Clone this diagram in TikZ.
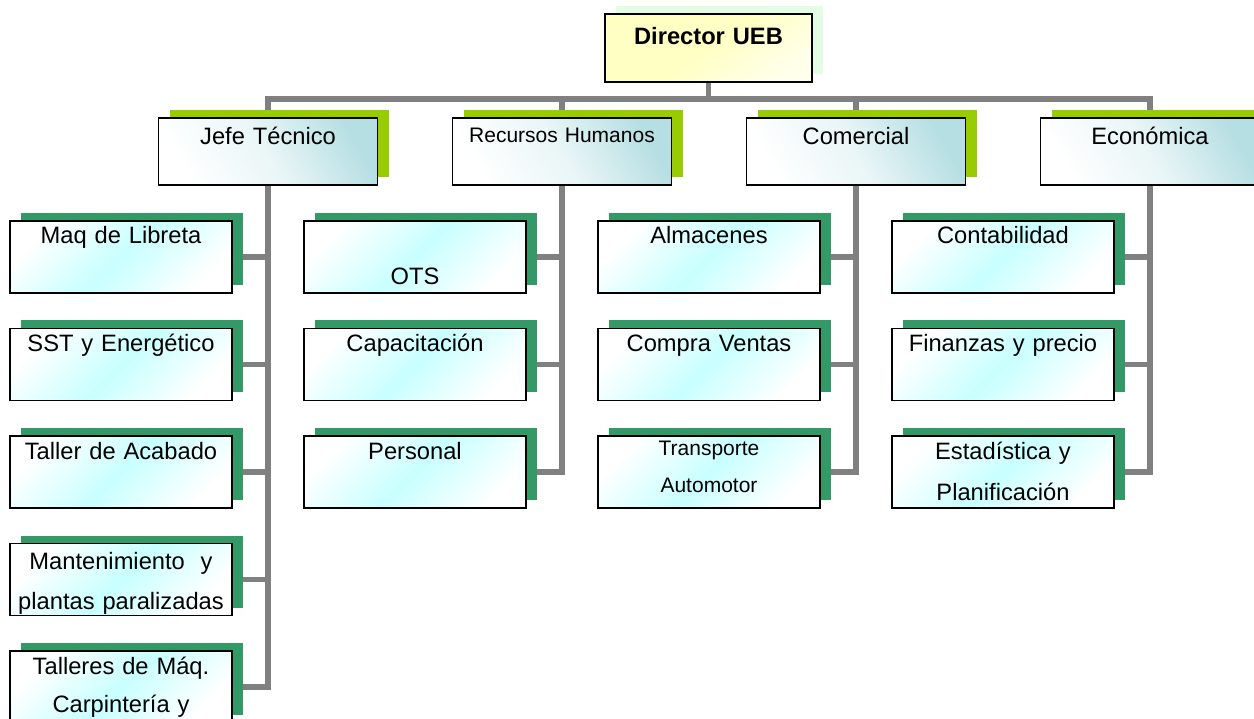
\documentclass[tikz,border=0pt]{standalone}
\usepackage{fontspec}
\setmainfont{Liberation Sans}
\usetikzlibrary{positioning,shadows,backgrounds}
\definecolor{linegray}{HTML}{808080}
\definecolor{dirfill}{HTML}{FFFFC4}
\definecolor{dirshadow}{HTML}{E4FCE4}
\definecolor{headfill}{HTML}{B6DFE3}
\definecolor{headshadow}{HTML}{99CC00}
\definecolor{subfill}{HTML}{C8FFFF}
\definecolor{subshadow}{HTML}{339966}
\newcommand{\boxfont}{\fontsize{23.7}{40}\selectfont}
\newcommand{\tightfont}{\fontsize{21}{37}\selectfont}

\begin{document}
\begin{tikzpicture}[
    x=1pt, y=-1pt,
    every node/.style={font=\boxfont},
    dirbox/.style={
      rectangle, draw, line width=1.6pt, outer sep=0pt,
      minimum width=207pt, text width=203pt, inner xsep=2pt, inner ysep=0pt,
      text height=31pt, text depth=37pt, align=center,
      font=\boxfont\bfseries,
      top color=dirfill, bottom color=dirfill!35, middle color=dirfill, shading angle=35,
      drop shadow={shadow xshift=11pt, shadow yshift=8pt, fill=dirshadow, opacity=1}
    },
    headbox/.style={
      rectangle, draw, line width=1.6pt, outer sep=0pt,
      minimum width=219pt, text width=215pt, inner xsep=2pt, inner ysep=0pt,
      text height=27pt, text depth=40pt, align=center,
      top color=headfill, bottom color=white, middle color=headfill!30, shading angle=-60,
      drop shadow={shadow xshift=11pt, shadow yshift=8pt, fill=headshadow, opacity=1}
    },
    subbox/.style={
      rectangle, draw, line width=1.6pt, outer sep=0pt,
      minimum width=222pt, text width=218pt, inner xsep=2pt, inner ysep=0pt,
      text height=23pt, text depth=49pt, align=center,
      top color=white, bottom color=white, middle color=subfill, shading angle=45,
      drop shadow={shadow xshift=11pt, shadow yshift=8pt, fill=subshadow, opacity=1}
    },
    conn/.style={draw=linegray, line width=5.5pt}
  ]
  \useasboundingbox (0,0) rectangle (1254,719);

  % Top of the chart
  \node[dirbox, anchor=north] (dir) at (708.5,14) {Director UEB};
  \coordinate (bar) at (0,99);

  % Departments
  \node[headbox, anchor=north] (jefe) at (268,118) {Jefe Técnico};
  \node[headbox, right=75pt of jefe, font=\tightfont, text height=25pt, text depth=42pt] (rrhh) {Recursos Humanos};
  \node[headbox, right=75pt of rrhh] (comercial) {Comercial};
  \node[headbox, right=75pt of comercial] (econ) {Económica};

  % Jefe Técnico
  \node[subbox, below=36pt of jefe, xshift=-147pt] (maq) {Maq de Libreta};
  \node[subbox, below=35.5pt of maq] (sst) {SST y Energético};
  \node[subbox, below=35.5pt of sst] (taller) {Taller de Acabado};
  \node[subbox, below=35.5pt of taller, text height=26pt, text depth=46pt] (mant) {Mantenimiento~ y\\plantas paralizadas};
  \node[subbox, below=35.5pt of mant, text height=23pt, text depth=49pt, font=\fontsize{23.7}{38}\selectfont] (talleres) {Talleres de Máq.\\Carpintería y};

  % Recursos Humanos
  \node[subbox, below=36pt of rrhh, xshift=-147pt, text height=64pt, text depth=8pt] (ots) {OTS};
  \node[subbox, below=35.5pt of ots] (capac) {Capacitación};
  \node[subbox, below=35.5pt of capac] (personal) {Personal};

  % Comercial
  \node[subbox, below=36pt of comercial, xshift=-147pt] (almacenes) {Almacenes};
  \node[subbox, below=35.5pt of almacenes] (compra) {Compra Ventas};
  \node[subbox, below=35.5pt of compra, font=\tightfont, text height=20pt, text depth=52pt] (transporte) {Transporte\\Automotor};

  % Económica
  \node[subbox, below=36pt of econ, xshift=-147pt] (conta) {Contabilidad};
  \node[subbox, below=35.5pt of conta] (finanzas) {Finanzas y precio};
  \node[subbox, below=35.5pt of finanzas, text height=24pt, text depth=48pt] (estad) {Estadística y\\Planificación};

  % Connectors
  \begin{scope}[on background layer]
    \draw[conn] (dir.south) -- (dir.south |- bar);
    \draw[conn] (jefe.north) -- (jefe.north |- bar) -- (econ.north |- bar) -- (econ.north);
    \draw[conn] (rrhh.north) -- (rrhh.north |- bar);
    \draw[conn] (comercial.north) -- (comercial.north |- bar);
    \foreach \s in {maq,sst,taller,mant,talleres}
      \draw[conn] (jefe.south) |- (\s.east);
    \foreach \s in {ots,capac,personal}
      \draw[conn] (rrhh.south) |- (\s.east);
    \foreach \s in {almacenes,compra,transporte}
      \draw[conn] (comercial.south) |- (\s.east);
    \foreach \s in {conta,finanzas,estad}
      \draw[conn] (econ.south) |- (\s.east);
  \end{scope}

\end{tikzpicture}
\end{document}
